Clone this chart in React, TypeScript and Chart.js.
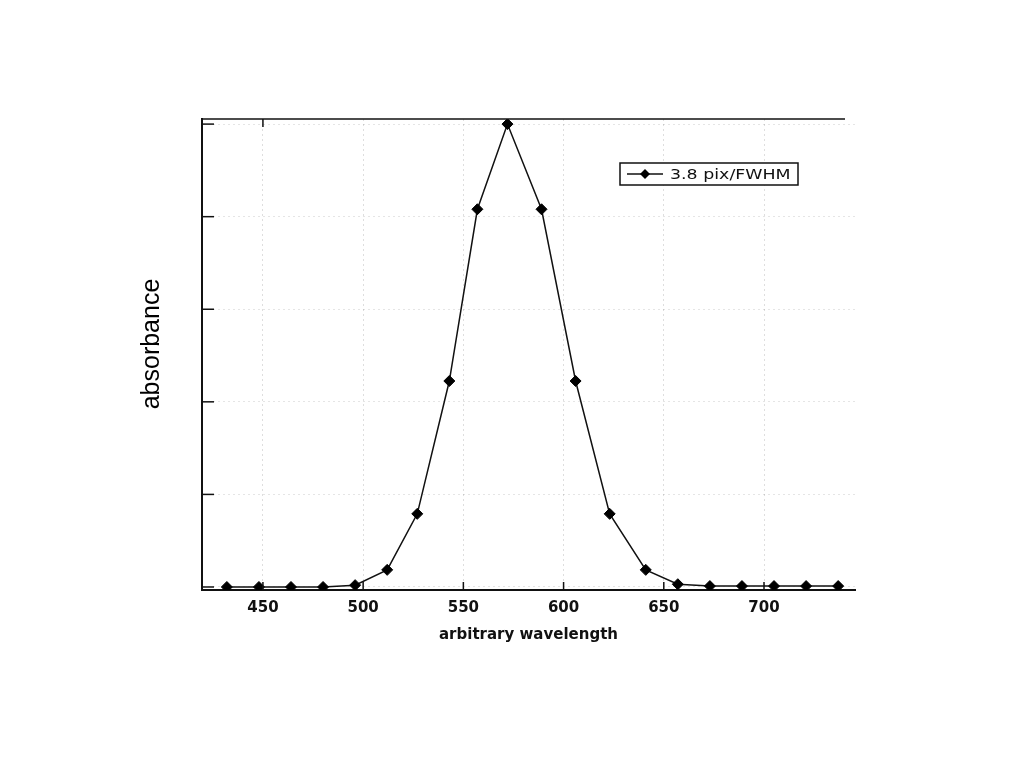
import React, { useEffect, useRef } from "react";
import { Chart, registerables } from "chart.js";

Chart.register(...registerables);

// ---- data ----
const wavelengths = [432, 448, 464, 480, 496, 512, 527, 543, 557, 572, 589, 606, 623, 641, 657, 673, 689, 705, 721, 737];
const absorbance = [0, 0, 0, 0, 0.004, 0.037, 0.158, 0.445, 0.816, 1.0, 0.816, 0.445, 0.158, 0.037, 0.006, 0.002, 0.002, 0.002, 0.002, 0.002];
const xTickValues = [450, 500, 550, 600, 650, 700];
const yTickValues = [0, 0.2, 0.4, 0.6, 0.8, 1.0];
const seriesLabel = "3.8 pix/FWHM";
const xTitle = "arbitrary wavelength";
const yTitle = "absorbance";

const decorPlugin = {
  id: "decor",
  afterDraw(chart: any) {
    const { ctx, chartArea } = chart;
    const xs = chart.scales.x;
    const ys = chart.scales.y;
    ctx.save();
    ctx.strokeStyle = "#111";
    // top frame line
    ctx.lineWidth = 1.5;
    ctx.beginPath();
    ctx.moveTo(chartArea.left, chartArea.top);
    ctx.lineTo(chartArea.right - 10, chartArea.top);
    ctx.stroke();
    // inner tick marks
    ctx.lineWidth = 1.5;
    yTickValues.forEach((v) => {
      const y = ys.getPixelForValue(v);
      ctx.beginPath();
      ctx.moveTo(chartArea.left, y);
      ctx.lineTo(chartArea.left + 12, y);
      ctx.stroke();
    });
    xTickValues.forEach((v) => {
      const x = xs.getPixelForValue(v);
      ctx.beginPath();
      ctx.moveTo(x, chartArea.bottom);
      ctx.lineTo(x, chartArea.bottom - 8);
      ctx.stroke();
    });
    const x450 = xs.getPixelForValue(xTickValues[0]);
    ctx.beginPath();
    ctx.moveTo(x450, chartArea.top);
    ctx.lineTo(x450, chartArea.top + 8);
    ctx.stroke();

    // y-axis title
    ctx.save();
    ctx.translate(152, 344);
    ctx.rotate(-Math.PI / 2);
    ctx.font = "25px 'Liberation Sans'";
    ctx.fillStyle = "#000";
    ctx.textAlign = "center";
    ctx.textBaseline = "middle";
    ctx.fillText(yTitle, 0, 0);
    ctx.restore();

    // legend box
    const bx = 620, by = 163, bw = 178, bh = 22;
    ctx.fillStyle = "#fff";
    ctx.fillRect(bx, by, bw, bh);
    ctx.lineWidth = 1.5;
    ctx.strokeRect(bx, by, bw, bh);
    const ly = by + bh / 2;
    ctx.lineWidth = 1.4;
    ctx.beginPath();
    ctx.moveTo(627, ly);
    ctx.lineTo(663, ly);
    ctx.stroke();
    ctx.fillStyle = "#000";
    ctx.beginPath();
    const r = 5;
    ctx.moveTo(645 - r, ly);
    ctx.lineTo(645, ly - r);
    ctx.lineTo(645 + r, ly);
    ctx.lineTo(645, ly + r);
    ctx.closePath();
    ctx.fill();
    ctx.translate(670, ly + 1);
    ctx.scale(1.2, 1);
    ctx.font = "14.5px 'DejaVu Sans'";
    ctx.textBaseline = "middle";
    ctx.textAlign = "left";
    ctx.fillStyle = "#111";
    ctx.fillText(chart.data.datasets[0].label, 0, 0);
    ctx.restore();
  },
};

export default function App() {
  const ref = useRef<HTMLCanvasElement | null>(null);
  useEffect(() => {
    if (!ref.current) return;
    const chart = new Chart(ref.current, {
      type: "scatter",
      data: {
        datasets: [
          {
            label: seriesLabel,
            data: wavelengths.map((x, i) => ({ x, y: absorbance[i] })),
            showLine: true,
            borderColor: "#111",
            borderWidth: 1.5,
            pointStyle: "rectRot",
            pointRadius: 5.5,
            pointBackgroundColor: "#000",
            pointBorderColor: "#000",
            pointBorderWidth: 1,
            tension: 0,
          },
        ],
      },
      options: {
        responsive: false,
        animation: false,
        layout: { padding: { left: 128, right: 169, top: 119, bottom: 120 } },
        plugins: { legend: { display: false }, tooltip: { enabled: false }, title: { display: false } },
        scales: {
          x: {
            type: "linear",
            min: 419.6,
            max: 745.4,
            afterBuildTicks: (s: any) => {
              s.ticks = xTickValues.map((v) => ({ value: v }));
            },
            afterFit: (s: any) => {
              s.height = 58;
            },
            grid: { color: "rgba(0,0,0,0.13)", drawTicks: false, lineWidth: 1 },
            border: { display: true, color: "#111", width: 2, dash: [2, 3] },
            ticks: {
              padding: 9,
              color: "#111",
              font: { family: "'DejaVu Sans'", size: 15, weight: "bold" },
            },
            title: {
              display: true,
              text: xTitle,
              color: "#111",
              font: { family: "'DejaVu Sans'", size: 15, weight: "bold" },
              padding: { top: 0, bottom: 4 },
            },
          },
          y: {
            type: "linear",
            min: -0.0065,
            max: 1.011,
            afterBuildTicks: (s: any) => {
              s.ticks = yTickValues.map((v) => ({ value: v }));
            },
            afterFit: (s: any) => {
              s.width = 74;
            },
            grid: { color: "rgba(0,0,0,0.1)", drawTicks: false, lineWidth: 1 },
            border: { display: true, color: "#111", width: 2, dash: [2, 3] },
            ticks: { display: false },
            title: { display: false, text: yTitle },
          },
        },
      },
      plugins: [decorPlugin],
    } as any);
    return () => chart.destroy();
  }, []);
  return (
    <div style={{ position: "fixed", left: 0, top: 0, width: 1024, height: 768, background: "#fff" }}>
      <canvas ref={ref} width={1024} height={768} style={{ display: "block" }} />
    </div>
  );
}
